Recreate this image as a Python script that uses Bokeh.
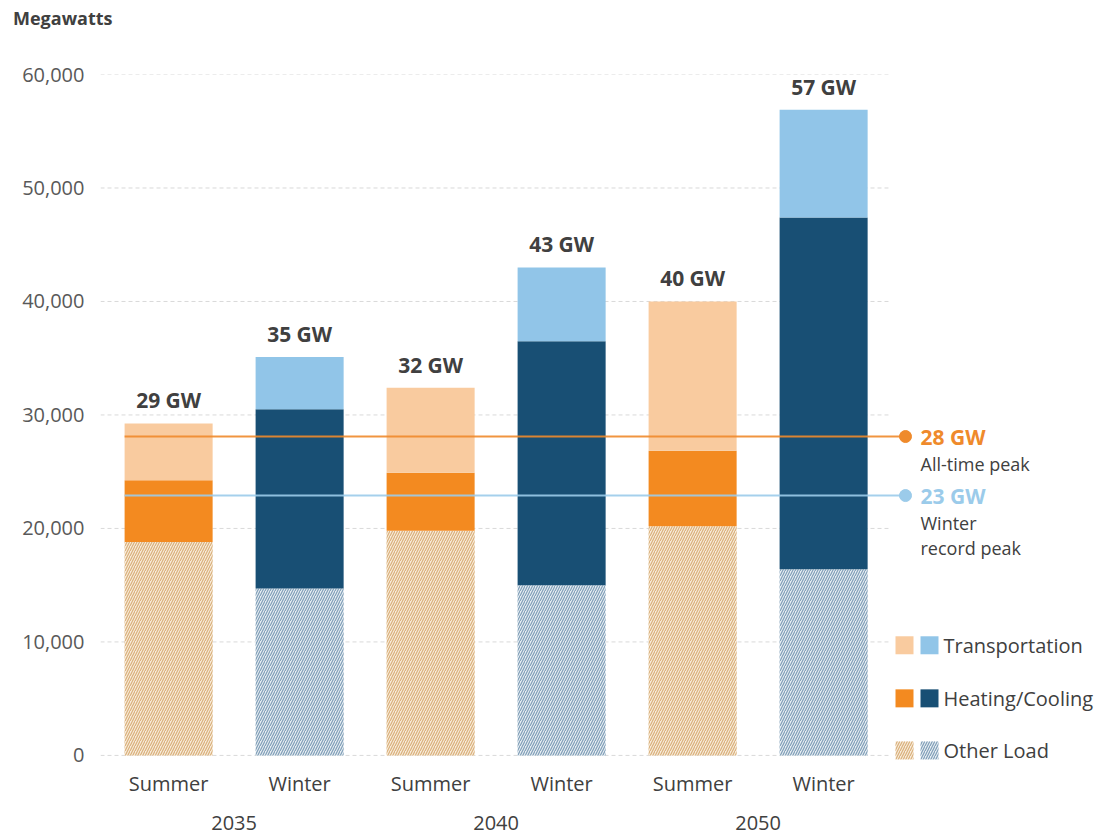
from bokeh.plotting import figure
from bokeh.layouts import column
from bokeh.models import (ColumnDataSource, FixedTicker, LinearAxis, NumeralTickFormatter,
                          Range1d, Div)
from bokeh.core.properties import value
from bokeh.embed import file_html
from bokeh.resources import INLINE

# ---- data (MW) ----
seasons = ["Summer", "Winter", "Summer", "Winter", "Summer", "Winter"]
years = ["2035", "2040", "2050"]
other_load = [18800, 14700, 19800, 15000, 20200, 16400]
heating_cooling = [5450, 15800, 5100, 21500, 6650, 31000]
transportation = [5000, 4600, 7500, 6500, 13150, 9500]
all_time_peak = 28100
winter_record_peak = 22900
y_ticks = [0, 10000, 20000, 30000, 40000, 50000, 60000]

# ---- styling ----
FONT = "Open Sans"
TEXT = "#404040"
TICK_TEXT = "#595959"
SUMMER = dict(trans="#F9CB9F", heat="#F38A20", hatch="#D9B07A", bg="#F8EBDA")
WINTER = dict(trans="#91C5E8", heat="#184F74", hatch="#7F9EB6", bg="#E6EDF3")
PEAK_ORANGE = "#EF8A2B"
PEAK_BLUE = "#9BCBEA"
HATCH = dict(hatch_pattern="/", hatch_scale=5, hatch_weight=1.2)

x = list(range(len(seasons)))
top_other = other_load
top_heat = [a + b for a, b in zip(other_load, heating_cooling)]
top_total = [a + b for a, b in zip(top_heat, transportation)]
pal = [SUMMER if s == "Summer" else WINTER for s in seasons]

src = ColumnDataSource(dict(
    x=x,
    top_other=top_other,
    top_heat=top_heat,
    top_total=top_total,
    hatch_col=[c["hatch"] for c in pal],
    bg_col=[c["bg"] for c in pal],
    heat_col=[c["heat"] for c in pal],
    trans_col=[c["trans"] for c in pal],
    label=[f"{round(t / 1000)} GW" for t in top_total],
))

HEADER_H = 36
X0 = -0.52
X1 = X0 + 996 / 131
BAR_W = 0.672

p = figure(width=1096, height=836 - HEADER_H, output_backend="svg", toolbar_location=None,
           x_range=Range1d(X0, X1), y_range=Range1d(-800, 60000),
           min_border_left=100, min_border_right=0, min_border_top=74 - HEADER_H,
           min_border_bottom=72)
p.outline_line_color = None
p.background_fill_color = "white"
p.border_fill_color = "white"
p.grid.visible = False

# dashed gridlines, limited to the bar area
grid_end = 5.495
p.segment(x0=[X0] * len(y_ticks), x1=[grid_end] * len(y_ticks), y0=y_ticks, y1=y_ticks,
          line_color="#D9D9D9", line_width=1, line_dash="4 3")

# stacked bars
p.vbar(x="x", width=BAR_W, bottom=0, top="top_other", source=src,
       fill_color="bg_col", line_color=None, hatch_color="hatch_col", **HATCH)
p.vbar(x="x", width=BAR_W, bottom="top_other", top="top_heat", source=src,
       fill_color="heat_col", line_color=None)
p.vbar(x="x", width=BAR_W, bottom="top_heat", top="top_total", source=src,
       fill_color="trans_col", line_color=None)

p.text(x="x", y="top_total", text="label", source=src, text_align="center",
       text_baseline="bottom", y_offset=-9, text_font=value(FONT),
       text_font_style="bold", text_font_size="21px", text_color=TEXT)

# peak reference lines
line_start = -BAR_W / 2
line_end = (905 - 100) / 131 + X0
note_x = (920 - 100) / 131 + X0
for val, col, notes in [(all_time_peak, PEAK_ORANGE, ["All-time peak"]),
                        (winter_record_peak, PEAK_BLUE, ["Winter", "record peak"])]:
    p.segment(x0=[line_start], x1=[line_end], y0=[val], y1=[val],
              line_color=col, line_width=2, line_alpha=0.9)
    p.scatter(x=[line_end], y=[val], size=12, fill_color=col, line_color=col)
    p.text(x=[note_x], y=[val], text=[f"{round(val / 1000)} GW"], text_baseline="middle",
           text_font=value(FONT), text_font_style="bold", text_font_size="21px",
           text_color=col)
    for i, n in enumerate(notes):
        p.text(x=[note_x], y=[val], text=[n], text_baseline="middle",
               y_offset=27 + 25 * i, text_font=value(FONT), text_font_size="18px",
               text_color=TEXT)

# legend with paired summer/winter swatches
sw_s = (904 - 100) / 131 + X0
sw_w = (929 - 100) / 131 + X0
lg_text = (943 - 100) / 131 + X0
rows = [9706, 5029, 441]
names = ["Transportation", "Heating/Cooling", "Other Load"]
SW = dict(width=18, height=18, width_units="screen", height_units="screen", line_color=None)
p.rect(x=[sw_s], y=[rows[0]], fill_color=SUMMER["trans"], **SW)
p.rect(x=[sw_w], y=[rows[0]], fill_color=WINTER["trans"], **SW)
p.rect(x=[sw_s], y=[rows[1]], fill_color=SUMMER["heat"], **SW)
p.rect(x=[sw_w], y=[rows[1]], fill_color=WINTER["heat"], **SW)
p.rect(x=[sw_s], y=[rows[2]], fill_color=SUMMER["bg"], hatch_color=SUMMER["hatch"], **SW, **HATCH)
p.rect(x=[sw_w], y=[rows[2]], fill_color=WINTER["bg"], hatch_color=WINTER["hatch"], **SW, **HATCH)
p.text(x=[lg_text] * 3, y=rows, text=names, text_baseline="middle",
       text_font=value(FONT), text_font_size="20px", text_color=TEXT)

# axes
p.yaxis.ticker = FixedTicker(ticks=y_ticks)
p.yaxis.formatter = NumeralTickFormatter(format="0,0")
p.yaxis.axis_line_color = None
p.yaxis.major_tick_line_color = None
p.yaxis.minor_tick_line_color = None
p.yaxis.major_tick_out = 0
p.yaxis.major_label_standoff = 16
p.yaxis.major_label_text_font = FONT
p.yaxis.major_label_text_font_size = "20px"
p.yaxis.major_label_text_color = TICK_TEXT

p.xaxis.ticker = FixedTicker(ticks=x)
p.xaxis.major_label_overrides = {i: s for i, s in enumerate(seasons)}
p.xaxis.axis_line_color = None
p.xaxis.major_tick_line_color = None
p.xaxis.minor_tick_line_color = None
p.xaxis.major_tick_out = 0
p.xaxis.major_label_standoff = 5
p.xaxis.major_label_text_font = FONT
p.xaxis.major_label_text_font_size = "20px"
p.xaxis.major_label_text_color = TEXT

year_axis = LinearAxis(ticker=FixedTicker(ticks=[0.5, 2.5, 4.5]),
                       major_label_overrides={0.5: years[0], 2.5: years[1], 4.5: years[2]},
                       axis_line_color=None, major_tick_line_color=None,
                       minor_tick_line_color=None, major_tick_out=0,
                       major_label_standoff=16, major_label_text_font=FONT,
                       major_label_text_font_size="20px", major_label_text_color=TEXT)
p.add_layout(year_axis, "below")

header = Div(text="Megawatts", width=1096, height=HEADER_H, margin=(0, 0, 0, 0),
             styles={"font-family": FONT, "font-weight": "bold", "font-size": "18px",
                     "color": TEXT, "padding-left": "13px", "padding-top": "6px",
                     "line-height": "24px", "box-sizing": "border-box"})

layout = column(header, p, spacing=0)
open("out.html", "w").write(file_html(layout, INLINE))
